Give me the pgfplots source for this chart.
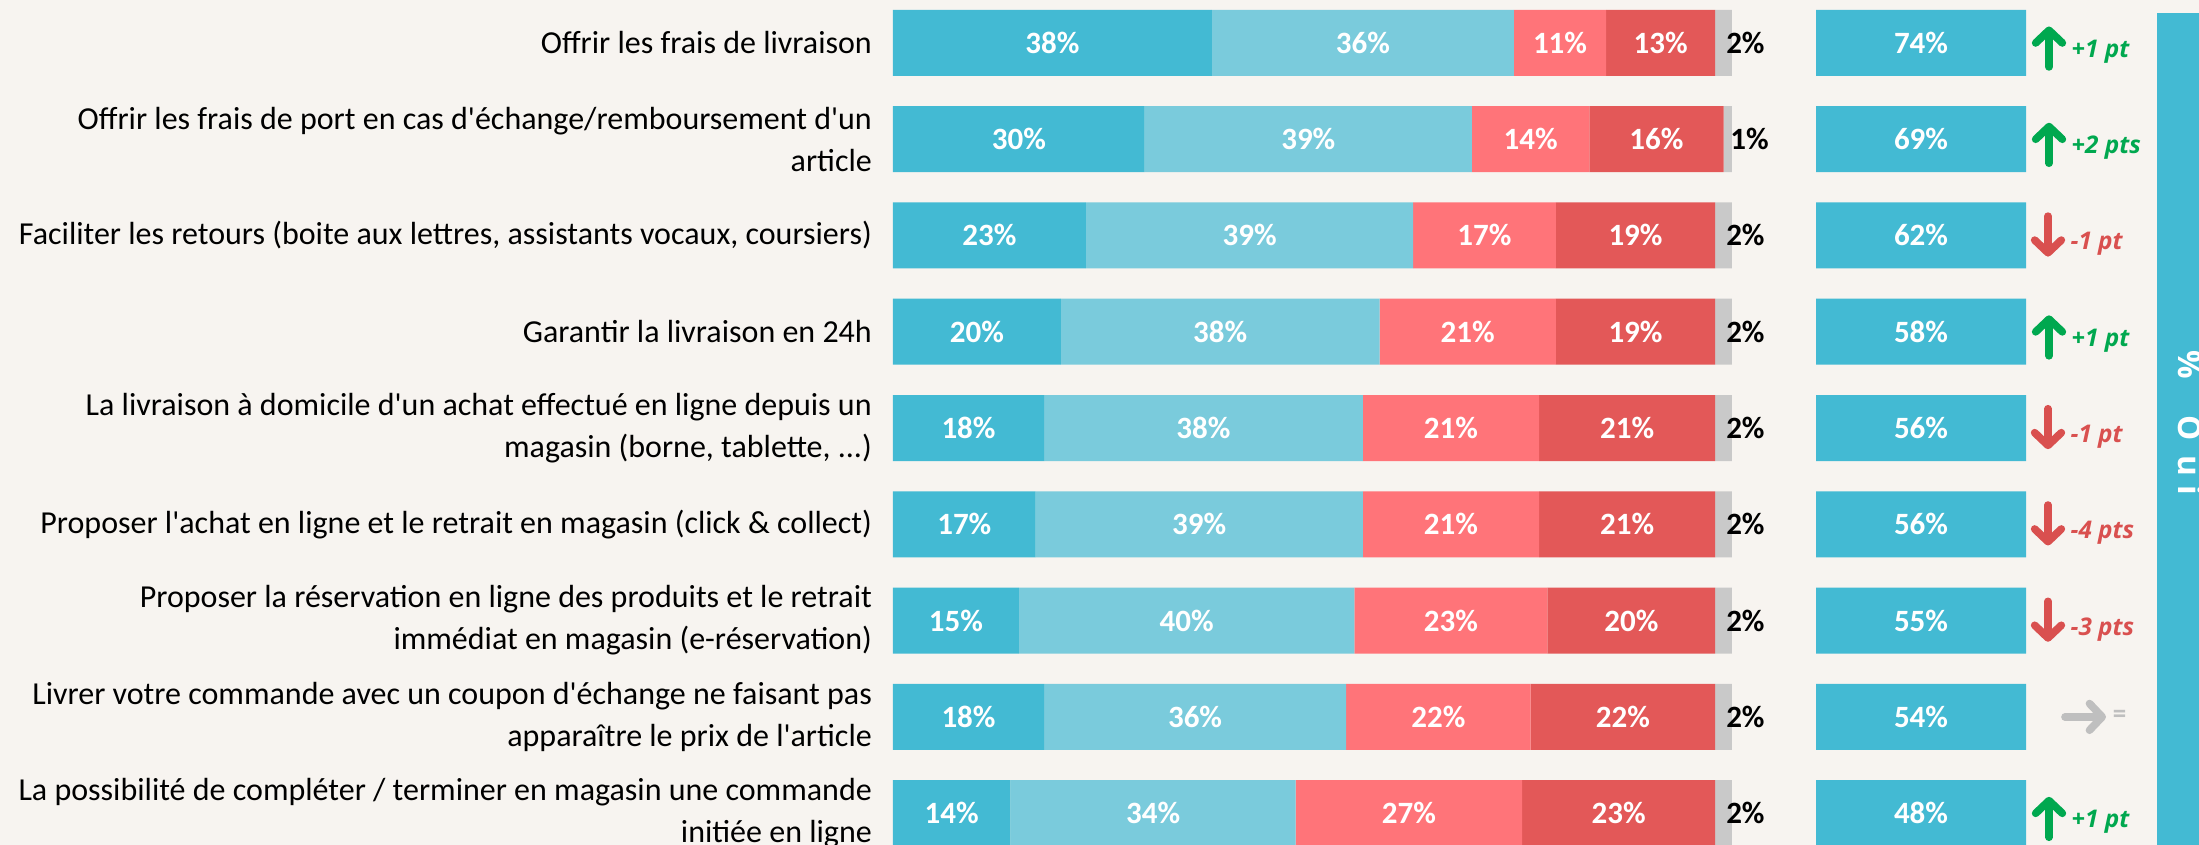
\documentclass[border=0pt]{standalone}
\usepackage{pgfplots}
\pgfplotsset{compat=1.18}
\usepackage{pgfplotstable}
\usepackage{fontspec}
\setmainfont{Carlito}
\newfontfamily\osans{Open Sans}
\usetikzlibrary{arrows.meta}

\definecolor{cA}{HTML}{43BAD3}
\definecolor{cB}{HTML}{7ACBDC}
\definecolor{cC}{HTML}{FF7479}
\definecolor{cD}{HTML}{E35858}
\definecolor{cE}{HTML}{C9C9C9}
\definecolor{bg}{HTML}{F7F4F0}
\definecolor{upc}{HTML}{00A84F}
\definecolor{downc}{HTML}{D9504F}
\definecolor{flatc}{HTML}{BFBFBF}

\newcommand\labfont{\fontsize{9.6pt}{12.6pt}\selectfont}
\newcommand\valfont{\fontsize{9.3pt}{11pt}\selectfont\bfseries}
\newcommand\deltafont{\osans\fontsize{7.3pt}{8pt}\selectfont\bfseries\itshape}
\newcommand\panelfont{\osans\fontsize{9.5pt}{10pt}\selectfont\bfseries}
\newcommand\q{\textquotesingle}
\protected\def\tdots{.\kern0pt.\kern0pt.}

\pgfplotstableread{
row a  b  c  d  e oui box
1   38 36 11 13 2 74  100
2   30 39 14 16 1 69  100
3   23 39 17 19 2 62  100
4   20 38 21 19 2 58  100
5   18 38 21 21 2 56  100
6   17 39 21 21 2 56  100
7   15 40 23 20 2 55  100
8   18 36 22 22 2 54  100
9   14 34 27 23 2 48  100
}\data

\pgfplotstableread{
row x    y    u v     tx   lab
1   2049 1.25 0 -0.42 2071 {+1 pt}
2   2049 2.25 0 -0.42 2071 {+2 pts}
4   2049 4.25 0 -0.42 2071 {+1 pt}
9   2049 9.25 0 -0.42 2071 {+1 pt}
}\uptab

\pgfplotstableread{
row x    y    u v    tx   lab
3   2048 2.80 0 0.42 2070 {-1 pt}
5   2048 4.80 0 0.42 2070 {-1 pt}
6   2048 5.80 0 0.42 2070 {-4 pts}
7   2048 6.80 0 0.42 2070 {-3 pts}
}\downtab

\pgfplotstableread{
row x    y u  v tx   lab
8   2065 8 41 0 2112 {=}
}\flattab

\pgfplotsset{
  rows/.style={scale only axis, anchor=south west, height=260pt,
    ymin=0.5, ymax=9.5, y dir=reverse, clip=false},
  lbl/.style={draw=none, mark=none, point meta=explicit symbolic},
}

\begin{document}
\begin{tikzpicture}
\useasboundingbox (0,0) rectangle (659.7pt,253.5pt);
\clip (0,0) rectangle (659.7pt,253.5pt);
\fill[bg] (0,0) rectangle (659.7pt,253.5pt);

% main stacked bars
\begin{axis}[rows, at={(267.9pt,-4.9pt)}, width=251.7pt,
  xmin=0, xmax=100, xbar stacked, bar width=19.8pt,
  axis line style={draw=none}, major tick length=0pt,
  xtick=\empty, ytick={1,2,3,4,5,6,7,8,9},
  yticklabels={
    {Offrir les frais de livraison},
    {Offrir les frais de port en cas d\q échange/remboursement d\q un\\article},
    {Faciliter les retours (boite aux lettres, assistants vocaux, coursiers)},
    {Garantir la livraison en 24h},
    {La livraison à domicile d\q un achat effectué en ligne depuis un\\magasin (borne, tablette, \tdots)},
    {Proposer l\q achat en ligne et le retrait en magasin (click \& collect)},
    {Proposer la réservation en ligne des produits et le retrait\\immédiat en magasin (e-réservation)},
    {Livrer votre commande avec un coupon d\q échange ne faisant pas\\apparaître le prix de l\q article},
    {La possibilité de compléter / terminer en magasin une commande\\initiée en ligne}},
  yticklabel style={anchor=east, inner sep=0pt, xshift=-6.15pt, align=right, font=\labfont}]
\addplot[fill=cA, draw=none] table[x=a, y=row]{\data};
\addplot[fill=cB, draw=none] table[x=b, y=row]{\data};
\addplot[fill=cC, draw=none] table[x=c, y=row]{\data};
\addplot[fill=cD, draw=none] table[x=d, y=row]{\data};
\addplot[fill=cE, draw=none, nodes near coords={\pgfplotspointmeta\%},
  point meta=explicit symbolic, nodes near coords align=west,
  every node near coord/.append style={font=\valfont, text=black, inner sep=0.6pt, anchor=west}]
  table[x=e, y=row, meta=e]{\data};
\end{axis}

% segment labels
\begin{axis}[rows, hide axis, at={(267.9pt,-4.9pt)}, width=251.7pt, xmin=0, xmax=100,
  nodes near coords={\pgfplotspointmeta\%}, nodes near coords align=center,
  every node near coord/.append style={font=\valfont, text=white, anchor=center}]
\addplot[lbl] table[x expr=\thisrow{a}/2, y=row, meta=a]{\data};
\addplot[lbl] table[x expr=\thisrow{a}+\thisrow{b}/2, y=row, meta=b]{\data};
\addplot[lbl] table[x expr=\thisrow{a}+\thisrow{b}+\thisrow{c}/2, y=row, meta=c]{\data};
\addplot[lbl] table[x expr=\thisrow{a}+\thisrow{b}+\thisrow{c}+\thisrow{d}/2, y=row, meta=d]{\data};
\end{axis}

% Oui boxes
\begin{axis}[rows, hide axis, at={(544.8pt,-4.9pt)}, width=63pt, xmin=0, xmax=100,
  xbar, bar width=19.8pt]
\addplot[fill=cA, draw=none] table[x=box, y=row]{\data};
\end{axis}
\begin{axis}[rows, hide axis, at={(544.8pt,-4.9pt)}, width=63pt, xmin=0, xmax=100,
  nodes near coords={\pgfplotspointmeta\%}, nodes near coords align=center,
  every node near coord/.append style={font=\valfont, text=white, anchor=center}]
\addplot[lbl] table[x expr=\thisrow{box}/2, y=row, meta=oui]{\data};
\end{axis}

% deltas
\begin{axis}[rows, hide axis, at={(609pt,-4.9pt)}, width=36pt, xmin=2030, xmax=2150]
\addplot[upc, line width=2.3pt, line cap=round, mark=none,
  -{Straight Barb[length=3.8pt, width=8pt, round]},
  quiver={u=\thisrow{u}, v=\thisrow{v}}] table[x=x, y=y]{\uptab};
\addplot[downc, line width=2.3pt, line cap=round, mark=none,
  -{Straight Barb[length=3.8pt, width=8pt, round]},
  quiver={u=\thisrow{u}, v=\thisrow{v}}] table[x=x, y=y]{\downtab};
\addplot[flatc, line width=2.3pt, line cap=round, mark=none,
  -{Straight Barb[length=3.8pt, width=8pt, round]},
  quiver={u=\thisrow{u}, v=\thisrow{v}}] table[x=x, y=y]{\flattab};
\addplot[lbl, nodes near coords={\pgfplotspointmeta}, nodes near coords align=west,
  every node near coord/.append style={font=\deltafont, text=upc, inner sep=0pt, anchor=west}]
  table[x=tx, y expr=\thisrow{row}+0.09, meta=lab]{\uptab};
\addplot[lbl, nodes near coords={\pgfplotspointmeta}, nodes near coords align=west,
  every node near coord/.append style={font=\deltafont, text=downc, inner sep=0pt, anchor=west}]
  table[x=tx, y expr=\thisrow{row}+0.09, meta=lab]{\downtab};
\addplot[lbl, nodes near coords={\pgfplotspointmeta}, nodes near coords align=west,
  every node near coord/.append style={font=\deltafont, text=flatc, inner sep=0pt, anchor=west}]
  table[x=tx, y expr=\thisrow{row}, meta=lab]{\flattab};
\end{axis}

% right panel
\fill[cA] (647.1pt,-2pt) rectangle (670pt,249.6pt);
\node[rotate=-90, anchor=base west, text=white, font=\panelfont, inner sep=0pt]
  at (653.4pt,148.5pt) {\%\hspace{11pt}O\hspace{4.2pt}u\hspace{3pt}i};
\end{tikzpicture}
\end{document}
